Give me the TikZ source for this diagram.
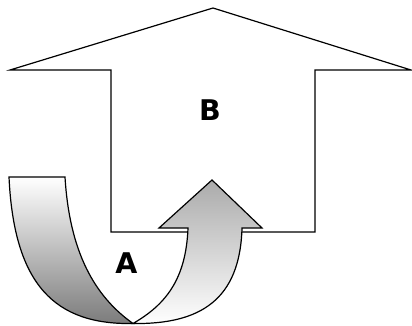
\documentclass[tikz,border=0pt]{standalone}
\usepackage{fontspec}
\newfontfamily\labelfont{DejaVu Sans}
\begin{document}
\begin{tikzpicture}[x=1pt,y=-1pt,
  outline/.style={draw=black,line width=1.2pt,line join=miter},
  letter/.style={font=\labelfont\bfseries\fontsize{28.5}{28.5}\selectfont,inner sep=0pt}]
\useasboundingbox (0,0) rectangle (412,326);

% large upward arrow (outline only)
\draw[outline,fill=white] (213,8) -- (411,70) -- (315,70) -- (315,232) -- (111,232)
  -- (111,70) -- (10,70) -- cycle;

% descending part of the twisted ribbon
\draw[outline,top color=white,bottom color=black!52]
  (9,177) -- (65,177)
  .. controls (70,260) and (100,300) .. (133,323.5)
  .. controls (55,325) and (14,285) .. (9,177) -- cycle;

% rising part of the ribbon ending in an arrowhead
\draw[outline,top color=black!33,bottom color=white]
  (133,323.5)
  .. controls (165,305) and (186,280) .. (188,228)
  -- (159,228) -- (212,180) -- (262,228) -- (242,228)
  .. controls (240,300) and (200,324.5) .. (133,323.5) -- cycle;

\node[letter] (labelB) at (210,110) {B};
\node[letter] (labelA) at (126.5,263) {A};
\end{tikzpicture}
\end{document}
